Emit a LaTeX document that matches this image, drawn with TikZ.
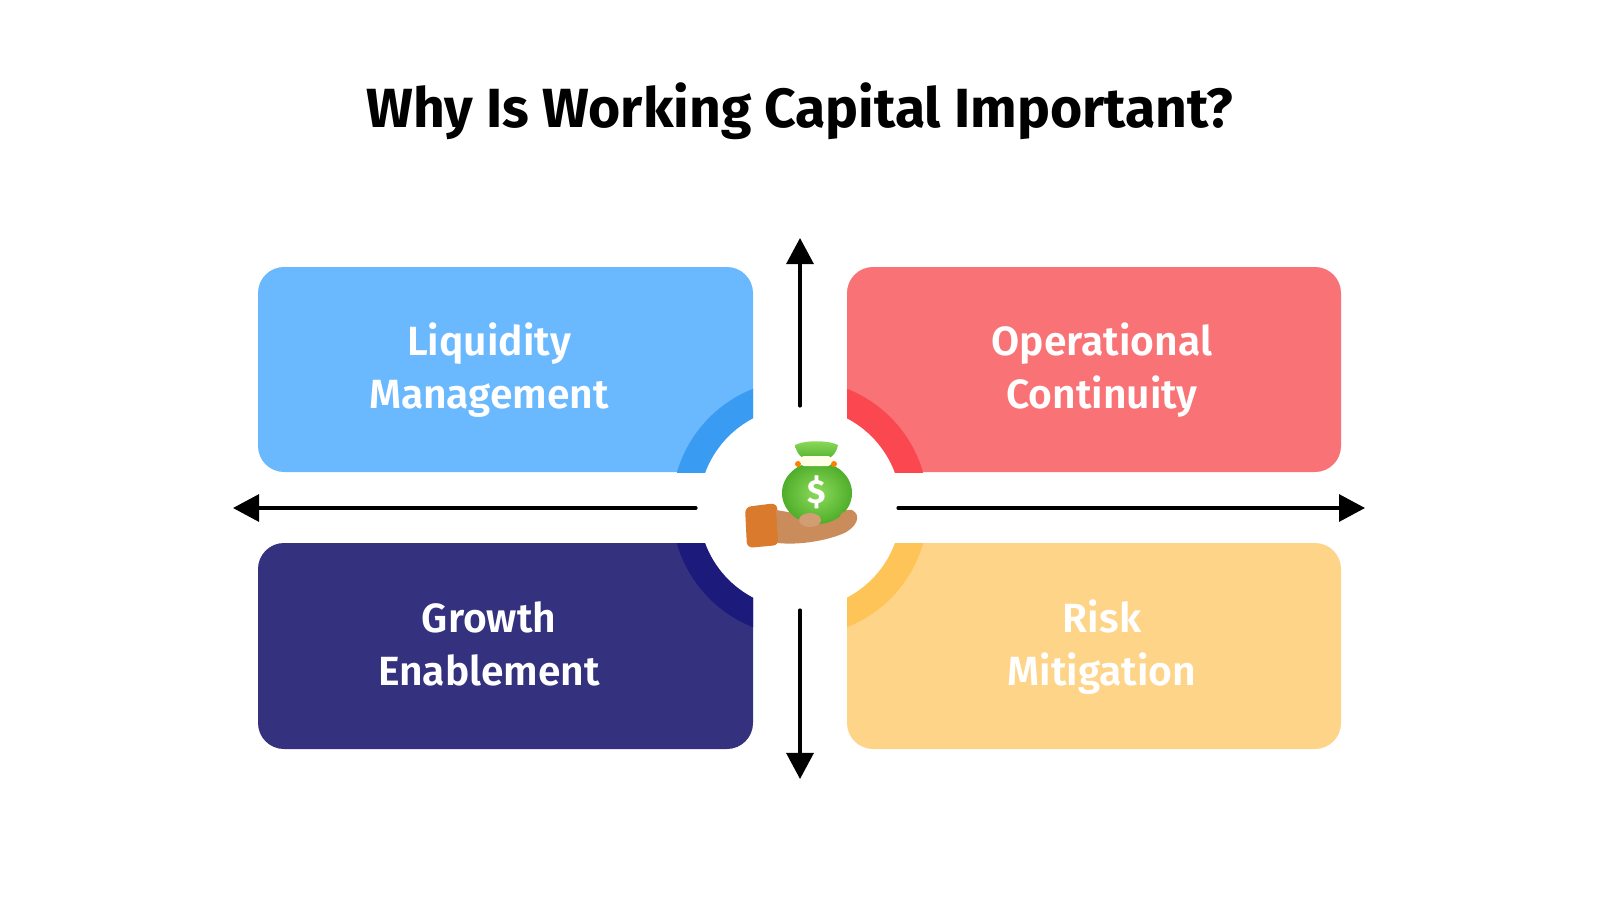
\documentclass[tikz,border=0pt]{standalone}
\usepackage{fontspec}
\setmainfont{Fira Sans}
\newfontfamily\titlefont{Fira Sans Bold}
\newfontfamily\boxfont{Fira Sans SemiBold}
\usetikzlibrary{arrows.meta}
\definecolor{liqblue}{HTML}{6AB8FE}
\definecolor{liqring}{HTML}{3A9BF3}
\definecolor{opred}{HTML}{F87276}
\definecolor{opring}{HTML}{FA4750}
\definecolor{grnavy}{HTML}{34317F}
\definecolor{grring}{HTML}{1C1A7B}
\definecolor{riskyel}{HTML}{FED488}
\definecolor{riskring}{HTML}{FEC457}
\definecolor{bagdark}{HTML}{4FAE2A}
\definecolor{baglight}{HTML}{8EDB5C}
\definecolor{sleeve}{HTML}{D97A2C}
\definecolor{skin}{HTML}{C98C5A}
\tikzset{
	boxtext/.style={anchor=base,text=white,font=\boxfont\fontsize{11.6}{13}\selectfont},
	axis/.style={->,color=black,line width=0.9pt}
}
\begin{document}
\begin{tikzpicture}[x=0.01cm,y=-0.01cm,line cap=round,line join=round,>={Triangle[length=0.26cm,width=0.27cm]}]
		\useasboundingbox (0,0) rectangle (1600,900);
		\node[anchor=base,font=\titlefont\fontsize{15.7}{19}\selectfont] (title) at (800,127) {Why Is Working Capital Important?};
		\fill[liqblue,rounded corners=0.26cm] (258,267) rectangle (753,472);
		\fill[opred,rounded corners=0.26cm] (847,267) rectangle (1341,472);
		\fill[grnavy,rounded corners=0.26cm] (258,543) rectangle (753,749);
		\fill[riskyel,rounded corners=0.26cm] (847,543) rectangle (1341,749);
		\begin{scope}
			\clip (258,267) rectangle (753,472);
			\fill[liqring] (800,508) circle (1.28cm);
		\end{scope}
		\begin{scope}
			\clip (847,267) rectangle (1341,472);
			\fill[opring] (800,508) circle (1.28cm);
		\end{scope}
		\begin{scope}
			\clip (258,543) rectangle (753,749);
			\fill[grring] (800,508) circle (1.28cm);
		\end{scope}
		\begin{scope}
			\clip (847,543) rectangle (1341,749);
			\fill[riskring] (800,508) circle (1.28cm);
		\end{scope}
		\fill[white] (800,508) circle (1.01cm);
		\node[boxtext] (liq1) at (489,355) {Liquidity};
		\node[boxtext] (liq2) at (489,408) {Management};
		\node[boxtext] (op1) at (1102,355) {Operational};
		\node[boxtext] (op2) at (1102,408) {Continuity};
		\node[boxtext] (gr1) at (489,632) {Growth};
		\node[boxtext] (gr2) at (489,685) {Enablement};
		\node[boxtext] (risk1) at (1102,632) {Risk};
		\node[boxtext] (risk2) at (1102,685) {Mitigation};
		\coordinate (up0) at (800,406);
		\coordinate (up1) at (800,238);
		\coordinate (down0) at (800,610);
		\coordinate (down1) at (800,779);
		\coordinate (left0) at (696,508);
		\coordinate (left1) at (233,508);
		\coordinate (right0) at (898,508);
		\coordinate (right1) at (1365,508);
		\draw[axis] (up0) -- (up1);
		\draw[axis] (down0) -- (down1);
		\draw[axis] (left0) -- (left1);
		\draw[axis] (right0) -- (right1);
		\fill[sleeve,rounded corners=0.06cm] (745,507) -- (777,503) -- (779,545) -- (747,548) -- cycle;
		\fill[skin] (776,510) -- (800,514) .. controls (828,522) and (842,508) .. (852,510) .. controls (862,515) and (857,528) .. (842,534) .. controls (822,542) and (796,545) .. (778,543) -- cycle;
		\shade[inner color=baglight,outer color=bagdark] (817,493) ellipse (0.35cm and 0.31cm);
		\shade[top color=baglight,bottom color=bagdark] (795,445) .. controls (805,440) and (828,440) .. (838,445) .. controls (836,456) and (828,461) .. (816,461) .. controls (804,461) and (797,456) .. (795,445) -- cycle;
		\fill[white!90!yellow,rounded corners=0.03cm] (801,456) rectangle (831,466);
		\fill[orange] (798,464) circle (0.03cm);
		\fill[orange] (834,464) circle (0.03cm);
		\fill[skin!85!white] (810,520) ellipse (0.11cm and 0.07cm);
		\fill[skin] (848,517) ellipse (0.08cm and 0.06cm);
		\node[text=white,font=\titlefont\fontsize{9.5}{11}\selectfont] (usd) at (817,492) {\$};
	\end{tikzpicture}
\end{document}
